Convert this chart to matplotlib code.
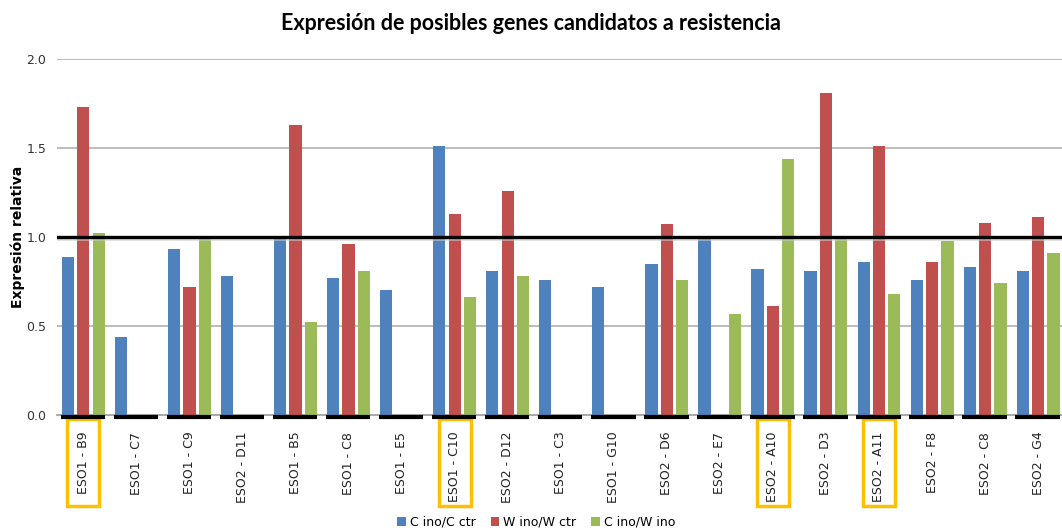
import matplotlib
matplotlib.use("Agg")
import matplotlib.pyplot as plt
import matplotlib.transforms as mtransforms
from matplotlib.patches import Rectangle
import numpy as np

# data
genes = ["ESO1 - B9", "ESO1 - C7", "ESO1 - C9", "ESO2 - D11", "ESO1 - B5", "ESO1 - C8",
         "ESO1 - E5", "ESO1 - C10", "ESO2 - D12", "ESO1 - C3", "ESO1 - G10", "ESO2 - D6",
         "ESO2 - E7", "ESO2 - A10", "ESO2 - D3", "ESO2 - A11", "ESO2 - F8", "ESO2 - C8",
         "ESO2 - G4"]
c_ino_c_ctr = [0.89, 0.44, 0.93, 0.78, 1.00, 0.77, 0.70, 1.51, 0.81, 0.76, 0.72, 0.85,
               1.00, 0.82, 0.81, 0.86, 0.76, 0.83, 0.81]
w_ino_w_ctr = [1.73, 0, 0.72, 0, 1.63, 0.96, 0, 1.13, 1.26, 0, 0, 1.07,
               0, 0.61, 1.81, 1.51, 0.86, 1.08, 1.11]
c_ino_w_ino = [1.02, 0, 1.00, 0, 0.52, 0.81, 0, 0.66, 0.78, 0, 0, 0.76,
               0.57, 1.44, 1.00, 0.68, 0.98, 0.74, 0.91]
highlighted = ["ESO1 - B9", "ESO1 - C10", "ESO2 - A10", "ESO2 - A11"]

blue = "#4F81BD"
red = "#C0504D"
green = "#9BBB59"

fig = plt.figure(figsize=(10.62, 5.31), dpi=100)
ax = fig.add_axes([0.054, 0.2185, 0.946, 0.6705])

x = np.arange(len(genes))
w = 0.23
ax.bar(x - 0.29, c_ino_c_ctr, w, color=blue, label="C ino/C ctr", zorder=3)
ax.bar(x, w_ino_w_ctr, w, color=red, label="W ino/W ctr", zorder=3)
ax.bar(x + 0.29, c_ino_w_ino, w, color=green, label="C ino/W ino", zorder=3)

ax.set_xlim(-0.49, 18.45)
ax.set_ylim(0, 2.0)
ax.set_yticks([0, 0.5, 1.0, 1.5, 2.0])
ax.set_yticklabels(["0.0", "0.5", "1.0", "1.5", "2.0"], fontsize=9, color="#333333")
for y in [0.5, 1.5, 2.0]:
    ax.axhline(y, color="#b0b0b0", lw=1.2, zorder=1)
ax.axhline(0, color="#999999", lw=1.2, zorder=2, clip_on=False)
# reference line at 1
ax.axhline(0.993, color="#cccccc", lw=3.5, zorder=4, alpha=0.6)
ax.axhline(1.0, color="black", lw=2.4, zorder=5)

# black bars below each group
for i in x:
    ax.plot([i - 0.43, i + 0.41], [-0.009, -0.009], color="black", lw=3,
            solid_capstyle="butt", clip_on=False, zorder=6)

for s in ax.spines.values():
    s.set_visible(False)
ax.tick_params(axis="y", length=0, pad=8)
ax.tick_params(axis="x", length=0, pad=12)
ax.set_xticks(x)
ax.set_xticklabels(genes, rotation=90, fontsize=9, va="top", color="#222222")

ax.set_ylabel("Expresión relativa", fontsize=10, fontweight="bold", labelpad=1)

# boxes around highlighted labels
trans = mtransforms.blended_transform_factory(ax.transData, ax.transAxes)
for g in highlighted:
    i = genes.index(g)
    ax.add_patch(Rectangle((i - 0.30, -0.256), 0.60, 0.245, transform=trans,
                           fill=False, edgecolor="#FFC000", lw=2.5, clip_on=False))

fig.suptitle("Expresión de posibles genes candidatos a resistencia", x=0.5, y=0.975,
             fontsize=15.5, fontweight="bold", family=["Lato", "DejaVu Sans"])

fig.legend(loc="lower center", bbox_to_anchor=(0.505, -0.017), ncol=3, frameon=False,
           fontsize=9, handlelength=0.7, handleheight=0.7, handletextpad=0.3,
           columnspacing=1.2)

fig.savefig("out.png", dpi=100)
